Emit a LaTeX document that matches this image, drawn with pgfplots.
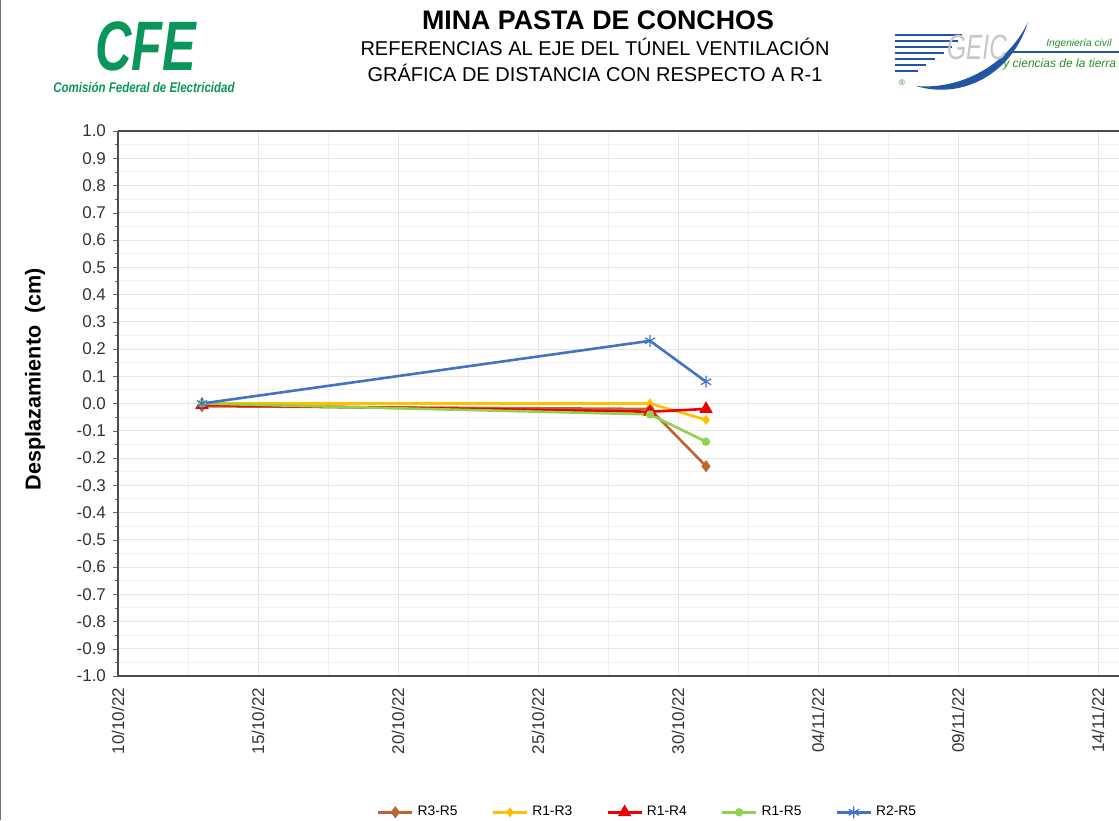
\documentclass[border=0pt]{standalone}
\usepackage{pgfplots}
\pgfplotsset{compat=1.18}
\usepackage{fontspec}
\setmainfont{Liberation Sans}
\definecolor{cfegreen}{RGB}{10,150,90}
\definecolor{geicblue}{RGB}{35,85,165}
\definecolor{geicgreen}{RGB}{40,140,40}
\definecolor{cbrown}{RGB}{190,100,50}
\definecolor{cyellow}{RGB}{255,192,0}
\definecolor{cred}{RGB}{240,0,0}
\definecolor{cgreen}{RGB}{146,208,80}
\definecolor{cblue}{RGB}{68,114,196}
\begin{document}
\begin{tikzpicture}
\useasboundingbox (0,0) rectangle (559.5pt,-410pt);
\begin{scope}[x=0.5pt,y=-0.5pt]
\draw[black!55, line width=0.6pt] (0.6,0) -- (0.6,820);
% CFE logo
\node[text=cfegreen, font=\fontsize{35}{35}\selectfont\bfseries\itshape, xscale=0.72, inner sep=0] at (146,46) {CFE};
\node[text=cfegreen, font=\fontsize{7}{7}\selectfont\bfseries\itshape, xscale=0.82, inner sep=0] at (144,87) {Comisión Federal de Electricidad};
% Titles
\node[font=\fontsize{13.4}{14}\selectfont\bfseries, inner sep=0] at (598,20) {MINA PASTA DE CONCHOS};
\node[font=\fontsize{10}{11}\selectfont, inner sep=0] at (595,47) {REFERENCIAS\ AL EJE DEL TÚNEL VENTILACIÓN};
\node[font=\fontsize{10}{11}\selectfont, inner sep=0] at (595,73) {GRÁFICA DE DISTANCIA CON RESPECTO A R-1};
% GEIC logo
\foreach \yy/\xe in {35/962,41/958,47/952,53/944,59/935,65/926,71/918}{
  \draw[geicblue, line width=1.1pt] (895,\yy) -- (\xe,\yy);
}
\node[text=geicgreen, font=\fontsize{4}{4}\selectfont, inner sep=0] at (902,83) {®};
\fill[geicblue] (916,86) .. controls (962,100) and (1012,74) .. (1028,22)
  .. controls (1008,64) and (962,90) .. (916,86) -- cycle;
\draw[geicblue, line width=1.3pt] (1008,52) -- (1125,52);
\node[text=black!22, font=\fontsize{17.5}{17.5}\selectfont\itshape, xscale=0.7, inner sep=0] at (977,47) {GEIC};
\node[text=geicgreen, font=\fontsize{5.1}{6}\selectfont\itshape, anchor=west, inner sep=0] at (1046,44) {Ingeniería civil};
\node[text=geicgreen, font=\fontsize{6}{6}\selectfont\itshape, anchor=west, inner sep=0] at (1003,64) {y ciencias de la tierra};
\end{scope}
\begin{axis}[
  at={(59pt,-338pt)}, anchor=south west,
  scale only axis, width=500.5pt, height=272.5pt,
  xmin=0, xmax=35.75, ymin=-1, ymax=1,
  axis x line=box, axis y line=left,
  axis line style={draw=black!70, line width=0.8pt, -},
  xtick={0,5,...,35},
  xticklabels={10/10/22,15/10/22,20/10/22,25/10/22,30/10/22,04/11/22,09/11/22,14/11/22},
  minor xtick={2.5,7.5,...,35},
  ytick={-1,-0.9,...,1.01},
  minor ytick={-0.95,-0.85,...,1},
  grid=both,
  major grid style={black!10, line width=0.5pt},
  minor grid style={black!6, line width=0.4pt},
  tick align=outside,
  major tick length=2.5pt, minor tick length=1.5pt,
  tick style={black!60},
  x tick style={draw=none},
  xticklabel style={rotate=90, anchor=east, font=\fontsize{8.5}{9}\selectfont, text=black!80},
  yticklabel style={font=\fontsize{8.5}{9}\selectfont, text=black!80},
  y tick label style={/pgf/number format/.cd, fixed, fixed zerofill, precision=1, assume math mode=true},
  ylabel={\bfseries Desplazamiento\ \ (cm)},
  ylabel style={font=\fontsize{10.8}{11}\selectfont},
  every axis y label/.append style={at={(-41.5pt,148.5pt)}, anchor=center},
  legend style={at={(0.530,-0.25)}, anchor=center, draw=none, fill=none,
    font=\fontsize{6.9}{7}\selectfont, legend columns=-1,
    /tikz/every even column/.append style={column sep=15pt}},
  legend image post style={line width=1.3pt},
]
\addplot[cbrown, line width=1.3pt, mark=diamond*, mark size=2pt] coordinates {(3,-0.01) (19,-0.02) (21,-0.23)};
\addlegendentry{R3-R5}
\addplot[cyellow, line width=1.3pt, mark=diamond*, mark size=1.5pt] coordinates {(3,0.0) (19,0.0) (21,-0.06)};
\addlegendentry{R1-R3}
\addplot[cred, line width=1.3pt, mark=triangle*, mark size=2.6pt] coordinates {(3,-0.005) (19,-0.03) (21,-0.02)};
\addlegendentry{R1-R4}
\addplot[cgreen, line width=1.3pt, mark=*, mark size=1.4pt] coordinates {(3,0.0) (19,-0.04) (21,-0.14)};
\addlegendentry{R1-R5}
\addplot[cblue, line width=1.3pt, mark=asterisk, mark size=3pt, mark options={line width=0.6pt}] coordinates {(3,0.0) (19,0.23) (21,0.08)};
\addlegendentry{R2-R5}
\end{axis}
\end{tikzpicture}
\end{document}
